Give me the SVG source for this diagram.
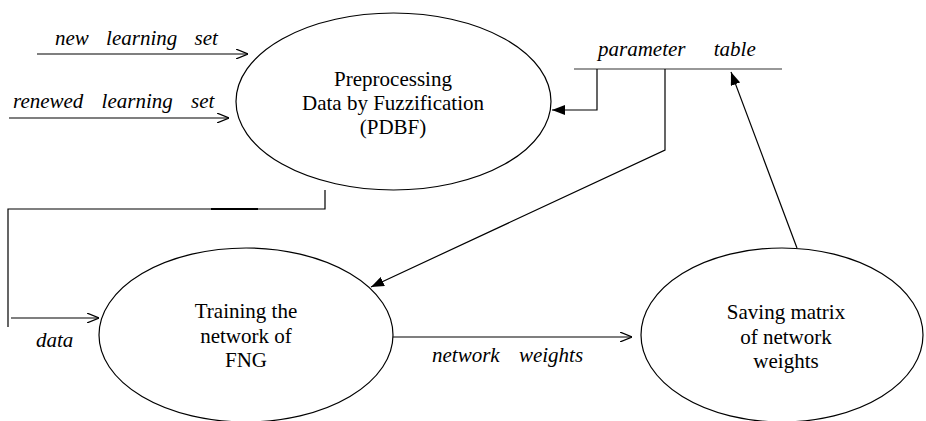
<svg xmlns="http://www.w3.org/2000/svg" width="926" height="421" viewBox="0 0 926 421">
<style>
.node{fill:none;stroke:#000;stroke-width:1.2}
.lbl{font-family:"Times New Roman","Liberation Serif","DejaVu Serif",serif;font-size:21px;fill:#000;text-anchor:middle}
.it{font-family:"Times New Roman","Liberation Serif","DejaVu Serif",serif;font-size:21px;font-style:italic;fill:#000}
.c{fill:none;stroke:#000;stroke-width:1.2}
.open{marker-end:url(#open)}
.fill{marker-end:url(#filled)}
</style>
<defs>
<marker id="open" viewBox="0 0 12 10" refX="12" refY="5" markerWidth="12" markerHeight="10" markerUnits="userSpaceOnUse" orient="auto">
<path d="M0,0 L12,5 L0,10" fill="none" stroke="#000" stroke-width="1.2"/>
</marker>
<marker id="filled" viewBox="0 0 13 10" refX="13" refY="5" markerWidth="13" markerHeight="10" markerUnits="userSpaceOnUse" orient="auto">
<path d="M0,0 L13,5 L0,10 Z" fill="#000"/>
</marker>
</defs>
<rect width="926" height="421" fill="#fff"/>
<g id="pdbf">
<ellipse class="node" cx="393.5" cy="101.5" rx="157.5" ry="88.5"/>
<text class="lbl" x="393" y="86" font-family="Liberation Serif, serif">Preprocessing</text>
<text class="lbl" x="393" y="110">Data by Fuzzification</text>
<text class="lbl" x="393" y="134">(PDBF)</text>
</g>
<g id="training">
<ellipse class="node" cx="246" cy="335" rx="147" ry="87"/>
<text class="lbl" x="246" y="318">Training the</text>
<text class="lbl" x="246" y="343">network of</text>
<text class="lbl" x="246" y="367">FNG</text>
</g>
<g id="saving">
<ellipse class="node" cx="782" cy="335" rx="141" ry="87"/>
<text class="lbl" x="786" y="319">Saving matrix</text>
<text class="lbl" x="786" y="344">of network</text>
<text class="lbl" x="786" y="368">weights</text>
</g>
<g id="parameter-table">
<line x1="574" y1="69" x2="782" y2="69" stroke="#333" stroke-width="1.2"/>
<text class="it" x="598" y="56" word-spacing="23">parameter table</text>
</g>
<g id="connectors">
<line class="c open" x1="37" y1="54" x2="248" y2="54"/>
<text class="it" x="55" y="45" word-spacing="12">new learning set</text>
<line class="c open" x1="9" y1="118" x2="229" y2="118"/>
<text class="it" x="13" y="108" word-spacing="13">renewed learning set</text>
<path class="c fill" d="M597,69 V110 H552"/>
<path class="c fill" d="M665,69 V150 L371,287"/>
<line class="c fill" x1="797" y1="248" x2="731" y2="72"/>
<path class="c" d="M325,190 V209 H8 V327"/>
<line x1="211" y1="209" x2="258" y2="209" stroke="#000" stroke-width="2.2"/>
<line class="c open" x1="11" y1="318" x2="99" y2="318"/>
<text class="it" x="36" y="347">data</text>
<line class="c open" x1="393" y1="337" x2="632" y2="337"/>
<text class="it" x="432" y="362" word-spacing="14">network weights</text>
</g>
</svg>
